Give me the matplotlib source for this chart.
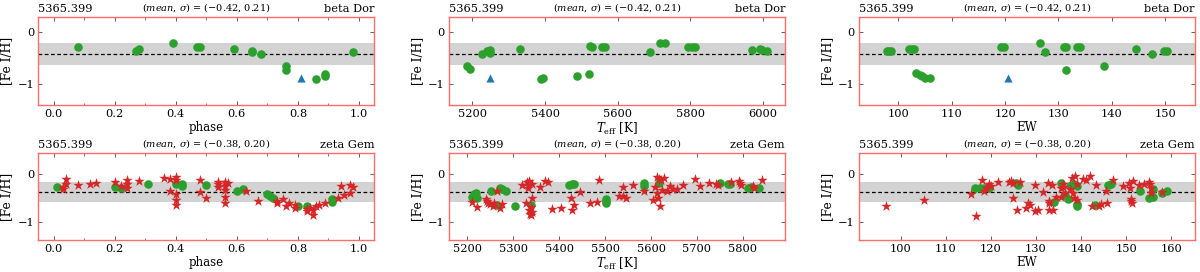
import matplotlib
matplotlib.use("Agg")
import matplotlib.pyplot as plt
from matplotlib.ticker import MultipleLocator

plt.rcParams['font.family'] = ['DejaVu Serif']
plt.rcParams['mathtext.fontset'] = 'dejavuserif'

line_label = "5365.399"
stars = ["beta Dor", "zeta Gem"]
means = [-0.42, -0.38]
sigmas = [0.21, 0.20]

# ---- beta Dor (top row) ----
bd_phase_x = [0.08, 0.27, 0.28, 0.39, 0.47, 0.48, 0.59, 0.65, 0.65, 0.68, 0.76, 0.76, 0.86, 0.89, 0.89, 0.98]
bd_phase_y = [-0.28, -0.36, -0.32, -0.21, -0.28, -0.28, -0.33, -0.36, -0.39, -0.43, -0.65, -0.73, -0.90, -0.81, -0.85, -0.39]
bd_phase_tri_x = [0.81]
bd_phase_tri_y = [-0.88]

bd_teff_x = [5185, 5195, 5228, 5240, 5250, 5250, 5330, 5388, 5395, 5487, 5520, 5525, 5530, 5558, 5565,
             5690, 5715, 5730, 5792, 5805, 5812, 5970, 5990, 5998, 6010]
bd_teff_y = [-0.65, -0.72, -0.42, -0.36, -0.35, -0.40, -0.33, -0.90, -0.88, -0.84, -0.81, -0.27, -0.28, -0.28, -0.28,
             -0.38, -0.21, -0.21, -0.28, -0.28, -0.28, -0.34, -0.32, -0.35, -0.36]
bd_teff_tri_x = [5250]
bd_teff_tri_y = [-0.88]

bd_ew_x = [97.8, 98.2, 98.7, 102.0, 102.5, 103.0, 103.3, 104.0, 104.5, 105.0, 106.0, 119.2, 119.8,
           126.5, 127.5, 131.0, 131.5, 131.5, 133.5, 134.0, 138.5, 144.5, 147.5, 149.8, 150.3]
bd_ew_y = [-0.36, -0.36, -0.36, -0.33, -0.32, -0.32, -0.80, -0.82, -0.85, -0.88, -0.88, -0.28, -0.28,
           -0.21, -0.38, -0.28, -0.28, -0.73, -0.28, -0.28, -0.65, -0.33, -0.42, -0.36, -0.37]
bd_ew_tri_x = [120.5]
bd_ew_tri_y = [-0.88]

# ---- zeta Gem (bottom row) ----
zg_phase_gx = [0.01, 0.20, 0.22, 0.31, 0.40, 0.42, 0.42, 0.50, 0.60, 0.62, 0.70, 0.71, 0.72, 0.80, 0.83, 0.91, 0.91]
zg_phase_gy = [-0.28, -0.28, -0.30, -0.22, -0.21, -0.22, -0.25, -0.24, -0.35, -0.32, -0.42, -0.47, -0.50, -0.67, -0.67, -0.53, -0.58]
zg_phase_rx = [0.03, 0.03, 0.04, 0.04, 0.08, 0.12, 0.14, 0.20, 0.22, 0.24, 0.24, 0.24, 0.28, 0.36, 0.38, 0.38,
               0.40, 0.40, 0.40, 0.40, 0.40, 0.48, 0.48, 0.50, 0.54, 0.54, 0.54, 0.56, 0.56, 0.56, 0.56, 0.56,
               0.57, 0.63, 0.67, 0.73, 0.73, 0.75, 0.76, 0.77, 0.79, 0.79, 0.83, 0.83, 0.84, 0.85, 0.85, 0.86,
               0.87, 0.89, 0.93, 0.94, 0.95, 0.97, 0.97, 0.98]
zg_phase_ry = [-0.32, -0.27, -0.22, -0.10, -0.24, -0.22, -0.19, -0.17, -0.25, -0.14, -0.22, -0.30, -0.16, -0.08, -0.10, -0.35,
               -0.06, -0.12, -0.42, -0.55, -0.66, -0.13, -0.38, -0.50, -0.17, -0.22, -0.28, -0.17, -0.25, -0.33, -0.48, -0.60,
               -0.20, -0.36, -0.56, -0.57, -0.62, -0.52, -0.68, -0.60, -0.65, -0.72, -0.73, -0.78, -0.72, -0.86, -0.75, -0.68,
               -0.65, -0.62, -0.50, -0.26, -0.45, -0.40, -0.23, -0.27]

zg_teff_gx = [5210, 5215, 5218, 5220, 5252, 5265, 5270, 5275, 5285, 5303, 5338, 5422, 5428, 5432, 5502, 5502, 5503,
              5585, 5585, 5617, 5750, 5767, 5772, 5812, 5818, 5835]
zg_teff_gy = [-0.48, -0.43, -0.40, -0.50, -0.35, -0.65, -0.30, -0.32, -0.35, -0.67, -0.65, -0.24, -0.22, -0.21, -0.53, -0.57, -0.60,
              -0.20, -0.25, -0.20, -0.20, -0.21, -0.21, -0.30, -0.28, -0.29]
zg_teff_rx = [5210, 5222, 5240, 5243, 5245, 5250, 5255, 5258, 5265, 5272, 5275, 5320, 5328, 5330, 5332, 5333, 5335, 5335,
              5337, 5338, 5338, 5340, 5340, 5341, 5358, 5370, 5375, 5385, 5405, 5425, 5428, 5432, 5445, 5468, 5482,
              5487, 5530, 5538, 5540, 5545, 5560, 5585, 5605, 5608, 5612, 5613, 5615, 5617, 5620, 5622, 5625, 5628,
              5635, 5642, 5648, 5656, 5670, 5695, 5707, 5727, 5742, 5745, 5775, 5792, 5794, 5797, 5822, 5825, 5842]
zg_teff_ry = [-0.58, -0.69, -0.53, -0.57, -0.60, -0.63, -0.68, -0.60, -0.37, -0.72, -0.63, -0.24, -0.60, -0.18, -0.24, -0.30, -0.15, -0.75,
              -0.83, -0.87, -0.70, -0.22, -0.80, -0.50, -0.27, -0.15, -0.17, -0.73, -0.71, -0.50, -0.75, -0.65, -0.39, -0.62, -0.59,
              -0.12, -0.46, -0.27, -0.46, -0.50, -0.23, -0.36, -0.55, -0.27, -0.06, -0.40, -0.50, -0.10, -0.67, -0.12, -0.34, -0.09,
              -0.36, -0.25, -0.31, -0.31, -0.23, -0.10, -0.25, -0.20, -0.21, -0.23, -0.18, -0.15, -0.20, -0.24, -0.25, -0.30, -0.14]

zg_ew_gx = [116.5, 117.5, 118.5, 119.5, 125.5, 126.0, 134.0, 135.5, 136.5, 137.0, 137.5, 138.0, 138.5, 139.0,
            139.0, 139.0, 143.0, 146.0, 146.5, 153.0, 155.0, 156.0, 156.0, 158.0, 159.0]
zg_ew_gy = [-0.30, -0.30, -0.29, -0.29, -0.20, -0.23, -0.58, -0.20, -0.45, -0.52, -0.25, -0.23, -0.22, -0.25,
            -0.67, -0.64, -0.66, -0.24, -0.22, -0.35, -0.50, -0.48, -0.32, -0.40, -0.35]
zg_ew_rx = [96.8, 105.2, 115.5, 116.7, 118.0, 118.5, 119.0, 119.5, 120.0, 121.5, 124.0, 124.5, 125.0, 125.0, 125.8,
            126.5, 127.8, 128.2, 128.7, 129.8, 129.8, 130.5, 131.5, 132.7, 132.8, 132.9, 132.9, 133.5, 133.8, 134.5,
            135.5, 135.5, 136.0, 136.0, 136.5, 137.5, 138.0, 138.2, 138.5, 138.7, 139.0, 139.0, 140.5, 141.0, 142.0,
            142.5, 143.2, 144.0, 144.5, 145.5, 145.7, 147.0, 149.3, 150.7, 150.8, 151.0, 151.0, 151.3, 151.5, 152.8,
            154.0, 155.0, 155.2, 155.5, 155.5, 157.8]
zg_ew_ry = [-0.68, -0.55, -0.42, -0.88, -0.13, -0.35, -0.30, -0.22, -0.25, -0.17, -0.17, -0.15, -0.20, -0.50, -0.75,
            -0.17, -0.72, -0.62, -0.65, -0.24, -0.77, -0.75, -0.38, -0.20, -0.57, -0.62, -0.75, -0.24, -0.75, -0.48,
            -0.30, -0.48, -0.22, -0.27, -0.40, -0.32, -0.08, -0.40, -0.50, -0.05, -0.22, -0.55, -0.10, -0.12, -0.05,
            -0.67, -0.23, -0.67, -0.63, -0.37, -0.62, -0.12, -0.25, -0.20, -0.30, -0.52, -0.57, -0.62, -0.15, -0.23,
            -0.22, -0.17, -0.22, -0.40, -0.30, -0.38]

xlabels = ["phase", r"$T_{\rm eff}$ [K]", "EW"]
xlims_top = [(-0.05, 1.05), (5136, 6060), (92.6, 155.6)]
xlims_bot = [(-0.05, 1.05), (5160, 5892), (90.8, 165.2)]
ylim_top = (-1.41, 0.30)
ylim_bot = (-1.39, 0.44)

GREEN = '#2ca02c'
RED = '#d62728'
BLUE = '#1f77b4'
SPINE = '#ff6b6b'

fig = plt.figure(figsize=(12, 2.72), dpi=100)
lefts = [0.0319, 0.3742, 0.7158]
W = 0.28
rows = [(0.614, 0.3246), (0.1165, 0.322)]

top_data = [
    (bd_phase_x, bd_phase_y, bd_phase_tri_x, bd_phase_tri_y),
    (bd_teff_x, bd_teff_y, bd_teff_tri_x, bd_teff_tri_y),
    (bd_ew_x, bd_ew_y, bd_ew_tri_x, bd_ew_tri_y),
]
bot_data = [
    (zg_phase_gx, zg_phase_gy, zg_phase_rx, zg_phase_ry),
    (zg_teff_gx, zg_teff_gy, zg_teff_rx, zg_teff_ry),
    (zg_ew_gx, zg_ew_gy, zg_ew_rx, zg_ew_ry),
]


def style(ax, col, m, s, star, xlim, ylim):
    ax.axhspan(m - s, m + s, color='#d3d3d3', zorder=0, lw=0)
    ax.axhline(m, color='black', ls=(0, (3, 2)), lw=0.9, zorder=1)
    ax.set_xlim(*xlim)
    ax.set_ylim(*ylim)
    ax.set_yticks([0, -1])
    ax.set_yticklabels(['0', '\u22121'])
    if col == 0:
        ax.xaxis.set_major_locator(MultipleLocator(0.2))
        ax.xaxis.set_minor_locator(MultipleLocator(0.1))
        ax.xaxis.set_major_formatter(matplotlib.ticker.FormatStrFormatter('%.1f'))
    ax.tick_params(which='both', direction='in', top=True, right=True, labelsize=8.2, color='#444444', pad=3)
    ax.tick_params(which='major', length=3, width=0.6)
    ax.tick_params(which='minor', length=1.8, width=0.5)
    for sp in ax.spines.values():
        sp.set_color(SPINE)
        sp.set_linewidth(1.0)
    ax.set_xlabel(xlabels[col], fontsize=8.5, labelpad=1)
    ax.set_ylabel('[Fe I/H]', fontsize=8.8, labelpad=3)
    ax.text(0.0, 1.03, line_label, transform=ax.transAxes, ha='left', va='bottom', fontsize=8.2)
    ax.text(1.0, 1.03, star, transform=ax.transAxes, ha='right', va='bottom', fontsize=8.2)
    ax.text(0.5, 1.03, r'($\mathit{mean}$, $\sigma$) = ($-$%.2f, %.2f)' % (-m, s),
            transform=ax.transAxes, ha='center', va='bottom', fontsize=7)


for col in range(3):
    ax = fig.add_axes([lefts[col], rows[0][0], W, rows[0][1]])
    style(ax, col, means[0], sigmas[0], stars[0], xlims_top[col], ylim_top)
    gx, gy, tx, ty = top_data[col]
    ax.scatter(gx, gy, s=38, color=GREEN, zorder=3, lw=0)
    ax.scatter(tx, ty, s=34, marker='^', color=BLUE, zorder=3, lw=0)

    ax = fig.add_axes([lefts[col], rows[1][0], W, rows[1][1]])
    style(ax, col, means[1], sigmas[1], stars[1], xlims_bot[col], ylim_bot)
    gx, gy, rx, ry = bot_data[col]
    ax.scatter(gx, gy, s=38, color=GREEN, zorder=3, lw=0)
    ax.scatter(rx, ry, s=62, marker='*', color=RED, zorder=4, lw=0)

fig.savefig('out.png', dpi=100)
